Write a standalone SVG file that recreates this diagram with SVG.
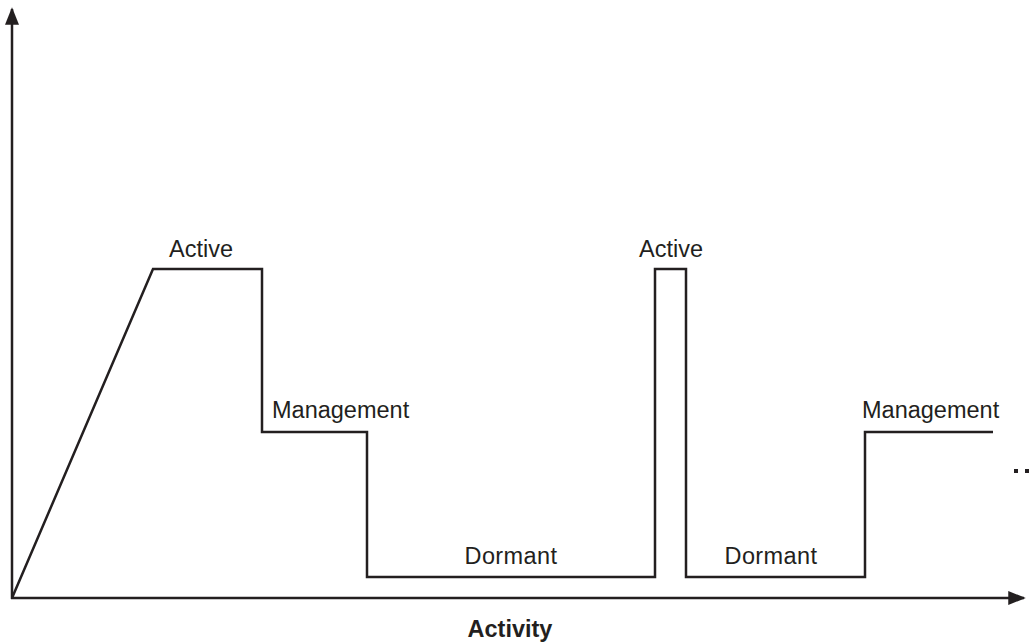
<svg xmlns="http://www.w3.org/2000/svg" width="1036" height="643" viewBox="0 0 1036 643">
  <style>
    .axis { stroke: #231f20; stroke-width: 2.5; fill: none; }
    .trace { stroke: #231f20; stroke-width: 2.5; fill: none; stroke-linejoin: miter; }
    .lbl { font-family: "Liberation Sans", Arial, sans-serif; font-size: 23.5px; fill: #231f20; }
    .wide { letter-spacing: 0.4px; }
    .title { font-family: "Liberation Sans", Arial, sans-serif; font-size: 23.5px; font-weight: bold; fill: #231f20; }
  </style>
  <defs>
    <marker id="arrow" viewBox="0 0 10 10" refX="9" refY="5" markerWidth="7" markerHeight="7" orient="auto" markerUnits="strokeWidth">
      <path d="M0,1 L10,5 L0,9 Z" fill="#231f20"/>
    </marker>
  </defs>
  <rect width="1036" height="643" fill="#ffffff"/>

  <g id="axes">
    <line class="axis" x1="12" y1="599" x2="12" y2="9" marker-end="url(#arrow)"/>
    <line class="axis" x1="11" y1="598" x2="1024" y2="598" marker-end="url(#arrow)"/>
  </g>

  <g id="connectors">
    <polyline class="trace" points="12,598 153,269 262,269 262,432 367,432 367,577 655,577 655,269 686,269 686,577 865,577 865,432 993,432"/>
  </g>

  <g id="continuation">
    <rect x="1014" y="469" width="4" height="4" fill="#231f20"/>
    <rect x="1025" y="469" width="4" height="4" fill="#231f20"/>
  </g>

  <g id="active-1"><text class="lbl" x="201" y="257" text-anchor="middle">Active</text></g>
  <g id="management-1"><text class="lbl" x="272" y="418">Management</text></g>
  <g id="dormant-1"><text class="lbl wide" x="511" y="564" text-anchor="middle">Dormant</text></g>
  <g id="active-2"><text class="lbl" x="671" y="257" text-anchor="middle">Active</text></g>
  <g id="dormant-2"><text class="lbl wide" x="771" y="564" text-anchor="middle">Dormant</text></g>
  <g id="management-2"><text class="lbl" x="862" y="418">Management</text></g>
  <g id="axis-title"><text class="title" x="510" y="637" text-anchor="middle">Activity</text></g>
</svg>
